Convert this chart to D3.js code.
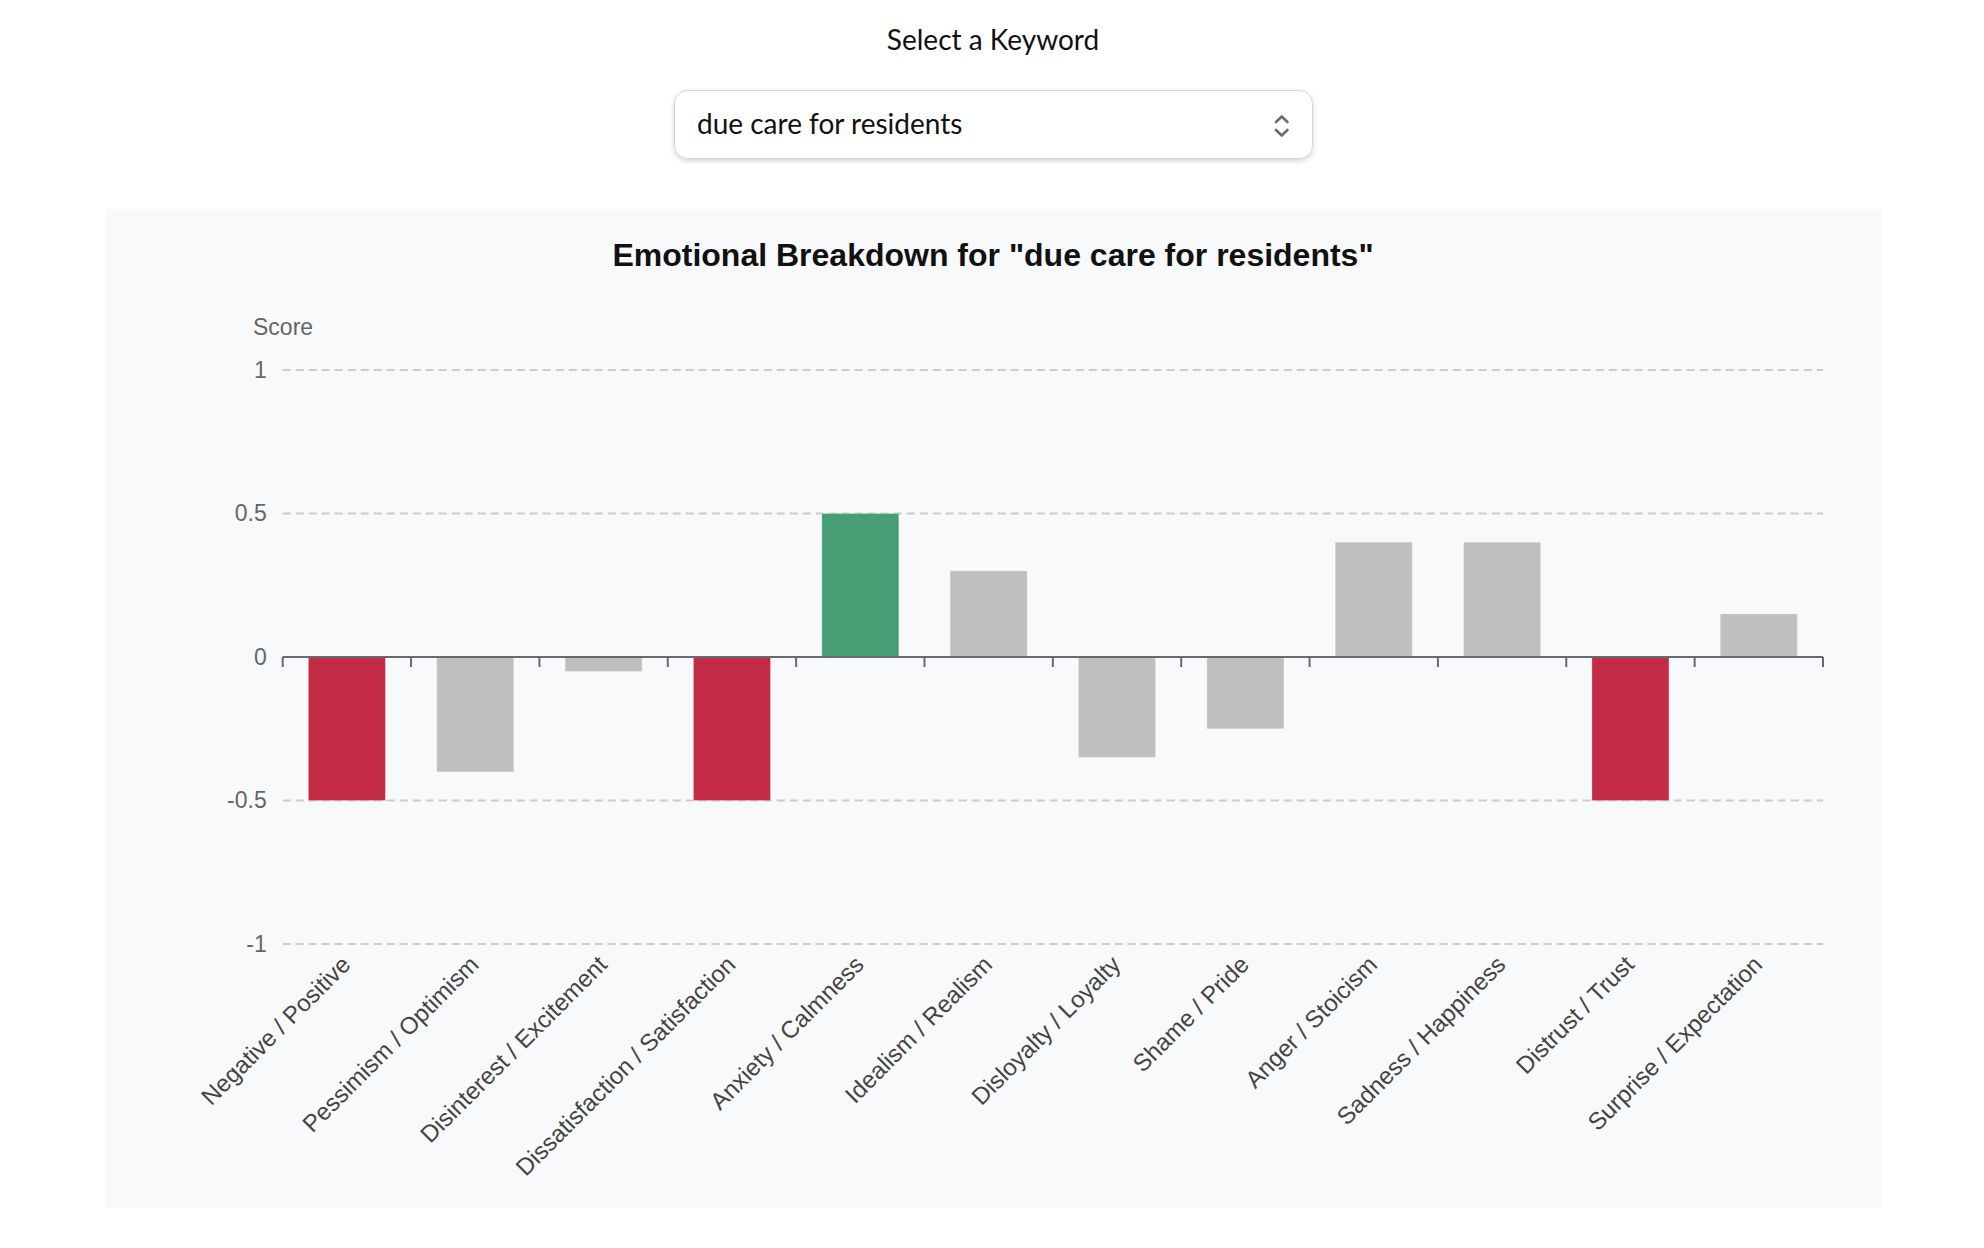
<!doctype html>
<html>

<head>
    <meta charset="utf-8">
    <title> Emotional Breakdown </title>
    <script src="https://d3js.org/d3.v7.min.js"> </script>
    <style>
        body { margin: 0; background: #fff; }
    </style>
</head>

<body>

    <div id = "chart"> </div>

    <script>

        // Data

        const keyword = "due care for residents";

        const categories = [
            "Negative / Positive", "Pessimism / Optimism", "Disinterest / Excitement",
            "Dissatisfaction / Satisfaction", "Anxiety / Calmness", "Idealism / Realism",
            "Disloyalty / Loyalty", "Shame / Pride", "Anger / Stoicism",
            "Sadness / Happiness", "Distrust / Trust", "Surprise / Expectation"
        ];

        const scores = [-0.5, -0.4, -0.05, -0.5, 0.5, 0.3, -0.35, -0.25, 0.4, 0.4, -0.5, 0.15];

        const yTicks = [-1, -0.5, 0, 0.5, 1];

        // Initial Work

        const canvasWidth = 1984;
        const canvasHeight = 1248;

        var svg = d3.select("#chart")
            .append("svg")
            .attr("width", canvasWidth)
            .attr("height", canvasHeight);

        var defs = svg.append("defs");
        var shadow = defs.append("filter").attr("id", "shadow")
            .attr("x", "-5%").attr("y", "-20%").attr("width", "110%").attr("height", "150%");
        shadow.append("feDropShadow")
            .attr("dx", 0).attr("dy", 2).attr("stdDeviation", 2.5)
            .attr("flood-color", "#000").attr("flood-opacity", 0.18);

        // Keyword selector

        svg.append("text")
            .attr("x", 993).attr("y", 50)
            .attr("text-anchor", "middle")
            .attr("font-family", "Lato")
            .attr("font-size", 28)
            .attr("fill", "#111")
            .text("Select a Keyword");

        svg.append("rect")
            .attr("x", 674.5).attr("y", 90.5)
            .attr("width", 638).attr("height", 68)
            .attr("rx", 13)
            .attr("fill", "#fff")
            .attr("stroke", "#d6d6d6")
            .attr("filter", "url(#shadow)");

        svg.append("text")
            .attr("x", 697).attr("y", 134)
            .attr("font-family", "Lato")
            .attr("font-size", 28)
            .attr("fill", "#111")
            .text(keyword);

        svg.append("path")
            .attr("d", "M1276,122 L1281.7,116.5 L1287.4,122 M1276,130 L1281.7,135.5 L1287.4,130")
            .attr("fill", "none")
            .attr("stroke", "#6b6b72")
            .attr("stroke-width", 2.6)
            .attr("stroke-linecap", "round")
            .attr("stroke-linejoin", "round");

        // Chart panel

        svg.append("rect")
            .attr("x", 106).attr("y", 209)
            .attr("width", 1776).attr("height", 999)
            .attr("fill", "#f8f9fa");

        svg.append("text")
            .attr("x", 993).attr("y", 266)
            .attr("text-anchor", "middle")
            .attr("font-family", "Liberation Sans, Arial, sans-serif")
            .attr("font-weight", "bold")
            .attr("font-size", 32)
            .attr("fill", "#111")
            .text("Emotional Breakdown for \"" + keyword + "\"");

        svg.append("text")
            .attr("x", 253).attr("y", 335)
            .attr("font-family", "Liberation Sans, Arial, sans-serif")
            .attr("font-size", 23)
            .attr("fill", "#666")
            .text("Score");

        var x = d3.scaleBand()
            .domain(categories)
            .range([282.7, 1823])
            .paddingInner(0.4)
            .paddingOuter(0.2);

        var y = d3.scaleLinear()
            .domain([-1, 1])
            .range([944, 370]);

        // Grid lines + y labels

        var yAxis = svg.append("g")
            .attr("transform", "translate(282.7,0)")
            .call(d3.axisLeft(y).tickValues(yTicks).tickSize(0).tickPadding(16).tickFormat(d => String(d)));
        yAxis.select(".domain").remove();
        yAxis.selectAll("text")
            .attr("font-family", "Liberation Sans, Arial, sans-serif")
            .attr("font-size", 23)
            .attr("fill", "#666");

        svg.append("g").selectAll("line")
            .data(yTicks.filter(d => d != 0))
            .enter()
            .append("line")
                .attr("x1", 282.7).attr("x2", 1823)
                .attr("y1", d => y(d)).attr("y2", d => y(d))
                .attr("stroke", "#cccccc")
                .attr("stroke-width", 2)
                .attr("stroke-dasharray", "8 5");

        // Bars

        function barColor(v){
            if (v <= -0.5) { return "#c32b46"; }
            else if (v >= 0.5) { return "#479e74"; }
            return "#bfbfbf";
        }

        svg.append("g").selectAll("rect")
            .data(scores)
            .enter()
            .append("rect")
                .attr("x", (d, i) => x(categories[i]))
                .attr("width", x.bandwidth())
                .attr("y", d => y(Math.max(0, d)))
                .attr("height", d => Math.abs(y(d) - y(0)))
                .attr("fill", d => barColor(d))
                .attr("stroke", "#fff")
                .attr("stroke-opacity", 0.25)
                .attr("stroke-width", 1);

        // Zero axis with ticks at band edges

        var edges = d3.range(categories.length + 1).map(i => x.range()[0] + i * x.step());

        svg.append("line")
            .attr("x1", 282.7).attr("x2", 1823)
            .attr("y1", y(0)).attr("y2", y(0))
            .attr("stroke", "#666a70")
            .attr("stroke-width", 2);

        svg.append("g").selectAll("line")
            .data(edges)
            .enter()
            .append("line")
                .attr("x1", d => d).attr("x2", d => d)
                .attr("y1", y(0)).attr("y2", y(0) + 10)
                .attr("stroke", "#666a70")
                .attr("stroke-width", 2);

        // Category labels

        svg.append("g").selectAll("text")
            .data(categories)
            .enter()
            .append("text")
                .attr("transform", d => "translate(" + (x(d) + x.bandwidth() / 2 + 5) + ",966) rotate(-45)")
                .attr("text-anchor", "end")
                .attr("font-family", "Liberation Sans, Arial, sans-serif")
                .attr("font-size", 24)
                .attr("fill", "#444")
                .text(d => d);

    </script>

</body>

</html>
